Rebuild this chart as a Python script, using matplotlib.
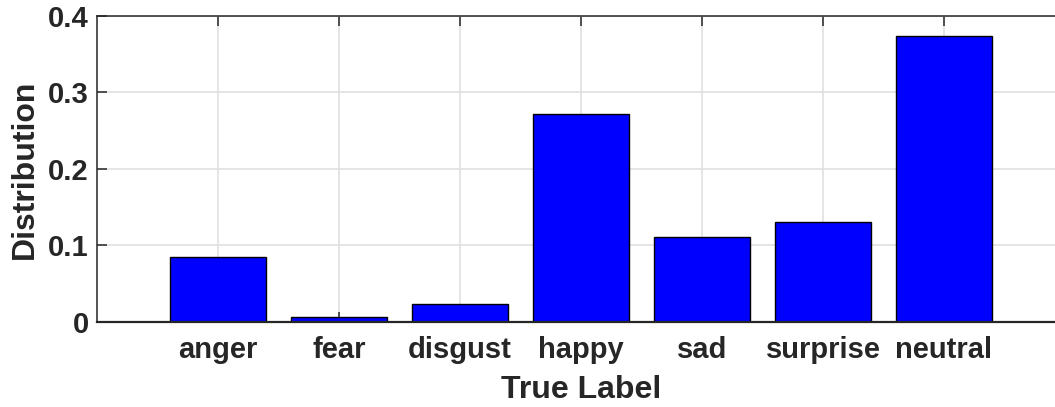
import matplotlib
matplotlib.use('Agg')
import matplotlib.pyplot as plt
import numpy as np
from matplotlib.ticker import FuncFormatter

# --- Data ---
LABELS = ['anger', 'fear', 'disgust', 'happy', 'sad', 'surprise', 'neutral']
DISTRIBUTION = [0.085, 0.0065, 0.023, 0.272, 0.111, 0.130, 0.374]
Y_TICKS = [0, 0.1, 0.2, 0.3, 0.4]

BAR_COLOR = '#0000ff'
TEXT_COLOR = '#262626'
GRID_COLOR = '#e0e0e0'

plt.rcParams.update({
    'font.family': 'Liberation Sans',
    'font.weight': 'bold',
    'font.size': 21,
})


def main():
    fig = plt.figure(figsize=(10.55, 4.07), dpi=100)
    fig.patch.set_facecolor('white')
    # axes box runs a little past the right edge of the image, as in the source
    ax = fig.add_axes([97 / 1055, 1 - 322 / 407, 968 / 1055, 306.3 / 407])

    x = np.arange(1, len(LABELS) + 1)
    ax.bar(x, DISTRIBUTION, width=0.8, color=BAR_COLOR,
           edgecolor='black', linewidth=1.0, zorder=2)

    ax.set_xlim(0, 8)
    ax.set_ylim(0, 0.4)
    ax.set_xticks(x)
    ax.set_xticklabels(LABELS, fontsize=21, fontweight='bold', color=TEXT_COLOR)
    ax.set_yticks(Y_TICKS)
    ax.yaxis.set_major_formatter(FuncFormatter(lambda v, p: f'{v:g}'))
    for lab in ax.get_yticklabels():
        lab.set_fontweight('bold')
        lab.set_color(TEXT_COLOR)

    ax.tick_params(axis='both', direction='in', length=7, width=1.1,
                   color=TEXT_COLOR, top=True, right=True, labelsize=21)
    ax.tick_params(axis='x', pad=10)
    ax.tick_params(axis='y', pad=6)

    ax.grid(True, color=GRID_COLOR, linewidth=1.2)
    ax.set_axisbelow(True)
    for sp in ax.spines.values():
        sp.set_color(TEXT_COLOR)
        sp.set_linewidth(1.1)
    ax.spines['bottom'].set_linewidth(1.6)

    ax.set_xlabel('True Label', fontsize=23, fontweight='bold',
                  color=TEXT_COLOR, labelpad=8)
    ax.set_ylabel('Distribution', fontsize=23, fontweight='bold',
                  color=TEXT_COLOR, labelpad=6)

    fig.savefig('out.png', dpi=100, facecolor='white')
    plt.close(fig)


if __name__ == '__main__':
    main()
